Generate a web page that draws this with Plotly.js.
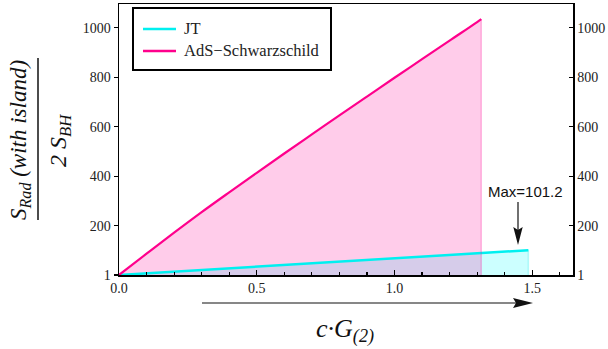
<!DOCTYPE html>
<html>
<head>
<meta charset="utf-8">
<script src="https://cdn.plot.ly/plotly-3.0.1.min.js"></script>
<style>html,body{margin:0;padding:0;background:#fff;}#chart{width:608px;height:349px;}</style>
</head>
<body>
<div id="chart"></div>
<script>
// ---- data ----
const seriesNames = ["JT", "AdS\u2212Schwarzschild"];
const jtX = [0, 0.2, 0.4, 0.6, 0.8, 1.0, 1.2, 1.4, 1.486];
const jtY = [1, 14.5, 28, 41.5, 55, 68.5, 82, 95.5, 101.2];
const adsX = [0, 0.1, 0.2, 0.3, 0.4, 0.5, 0.6, 0.7, 0.8, 0.9, 1.0, 1.1, 1.2, 1.3, 1.315];
const adsY = [1, 87, 172, 255, 335, 414, 492, 569, 646, 722, 798, 873, 948, 1023, 1035];
const yTicks = [1, 200, 400, 600, 800, 1000];
const maxLabel = "Max=101.2";

// ---- layout helpers (pixel -> paper) ----
const L = 119, R = 35, T = 4, B = 74, W = 608, H = 349;
const PW = W - L - R, PH = H - T - B;
const px = v => (v - L) / PW;
const py = v => (H - B - v) / PH;

const pink = "rgb(255,0,140)";
const cyan = "rgb(0,240,240)";
const serif = "Liberation Serif";
const sans = "Liberation Sans";

const jtLast = jtX.length - 1, adsLast = adsX.length - 1;

const traces = [
  {x: jtX, y: jtY, mode: "lines", fill: "tozeroy", fillcolor: "rgba(0,255,255,0.2)",
   line: {width: 0, color: cyan}, showlegend: false, hoverinfo: "skip"},
  {x: adsX, y: adsY, mode: "lines", fill: "tozeroy", fillcolor: "rgba(255,0,150,0.2)",
   line: {width: 0, color: pink, shape: "spline"}, showlegend: false, hoverinfo: "skip"},
  {x: [jtX[jtLast], jtX[jtLast]], y: [0, jtY[jtLast]], mode: "lines",
   line: {width: 1.5, color: "rgba(0,230,230,0.25)"}, showlegend: false, hoverinfo: "skip"},
  {x: [adsX[adsLast], adsX[adsLast]], y: [0, adsY[adsLast]], mode: "lines", yaxis: "y2",
   line: {width: 1.5, color: "rgba(255,0,150,0.25)"}, showlegend: false, hoverinfo: "skip"},
  {x: jtX, y: jtY, mode: "lines", name: seriesNames[0], showlegend: false, line: {width: 2.5, color: cyan}},
  {x: adsX, y: adsY, mode: "lines", name: seriesNames[1], showlegend: false, line: {width: 2.2, color: pink, shape: "spline"}}
];

const yRange = [1, 1096];
const tickFont = {family: serif, size: 14, color: "#222"};

// manual legend (box, samples, labels)
const legBox = {x0: 133, x1: 331, y0: 8, y1: 70};
const legRows = [29, 51];
const legColors = [cyan, pink];

const shapes = [
  {type: "rect", xref: "paper", yref: "paper", x0: px(legBox.x0), x1: px(legBox.x1), y0: py(legBox.y0), y1: py(legBox.y1),
   fillcolor: "#fff", line: {color: "#000", width: 2}},
  {type: "line", xref: "paper", yref: "paper", x0: px(38), x1: px(38), y0: py(58), y1: py(220),
   line: {color: "#111", width: 1.5}},
  {type: "line", xref: "paper", yref: "paper", x0: px(202), x1: px(518), y0: py(303), y1: py(303),
   line: {color: "#111", width: 1.2}},
  {type: "path", xref: "paper", yref: "paper", fillcolor: "#111", line: {width: 0},
   path: `M ${px(513)} ${py(298)} L ${px(533)} ${py(303)} L ${px(513)} ${py(308)} L ${px(516)} ${py(303)} Z`},
  {type: "line", xref: "paper", yref: "paper", x0: px(518), x1: px(518), y0: py(202), y1: py(232),
   line: {color: "#111", width: 1.2}},
  {type: "path", xref: "paper", yref: "paper", fillcolor: "#111", line: {width: 0},
   path: `M ${px(513.3)} ${py(227)} L ${px(518)} ${py(245)} L ${px(522.7)} ${py(227)} L ${px(518)} ${py(230)} Z`}
];
legRows.forEach((ry, i) => shapes.push({type: "line", xref: "paper", yref: "paper",
  x0: px(143), x1: px(176), y0: py(ry), y1: py(ry), line: {color: legColors[i], width: 2.5}}));

const annotations = [
  {xref: "paper", yref: "paper", x: px(20), y: py(140), xanchor: "center", yanchor: "middle",
   text: "<i>S<sub>Rad</sub> (with island)</i>", textangle: -90, showarrow: false,
   font: {family: serif, size: 23, color: "#111"}},
  {xref: "paper", yref: "paper", x: px(60), y: py(140), xanchor: "center", yanchor: "middle",
   text: "<i>2 S<sub>BH</sub></i>", textangle: -90, showarrow: false,
   font: {family: serif, size: 24, color: "#111"}},
  {xref: "paper", yref: "paper", x: px(345), y: py(330), xanchor: "center", yanchor: "middle",
   text: "<i>c\u00b7G<sub>(2)</sub></i>", showarrow: false,
   font: {family: serif, size: 26, color: "#111"}},
  {xref: "paper", yref: "paper", x: px(525), y: py(192), xanchor: "center", yanchor: "middle",
   text: maxLabel, showarrow: false,
   font: {family: sans, size: 15, color: "#111"}}
];
legRows.forEach((ry, i) => annotations.push({xref: "paper", yref: "paper", x: px(182), y: py(ry),
  xanchor: "left", yanchor: "middle", text: seriesNames[i], showarrow: false,
  font: {family: serif, size: 16.5, color: "#222"}}));

const layout = {
  width: W, height: H,
  font: {family: serif, size: 14, color: "#222"},
  margin: {l: L, r: R, t: T, b: B, pad: 0},
  paper_bgcolor: "#fff", plot_bgcolor: "#fff",
  showlegend: false,
  xaxis: {range: [0, 1.648], tick0: 0, dtick: 0.5, tickformat: ".1f",
          ticks: "inside", ticklen: 5, tickwidth: 1.2, tickcolor: "#000",
          minor: {tick0: 0, dtick: 0.1, ticks: "inside", ticklen: 3, tickwidth: 1.2, tickcolor: "#000"},
          showline: true, linewidth: 1.5, linecolor: "#000", mirror: true,
          showgrid: false, zeroline: false, tickfont: tickFont, automargin: false},
  yaxis: {range: yRange, tickmode: "array", tickvals: yTicks, ticktext: yTicks.map(String),
          ticks: "outside", ticklen: 4, tickwidth: 1.2, tickcolor: "#000",
          showline: true, linewidth: 1.5, linecolor: "#000",
          showgrid: false, zeroline: false, tickfont: tickFont, automargin: false},
  yaxis2: {range: yRange, overlaying: "y", side: "right", tickmode: "array", tickvals: yTicks,
           ticktext: yTicks.map(String), ticks: "inside", ticklen: 4, tickwidth: 1.2, tickcolor: "#000",
           showline: true, linewidth: 1.5, linecolor: "#000",
           showgrid: false, zeroline: false, tickfont: tickFont, automargin: false},
  annotations: annotations,
  shapes: shapes
};

Plotly.newPlot("chart", traces, layout, {staticPlot: true, displayModeBar: false});
</script>
</body>
</html>
